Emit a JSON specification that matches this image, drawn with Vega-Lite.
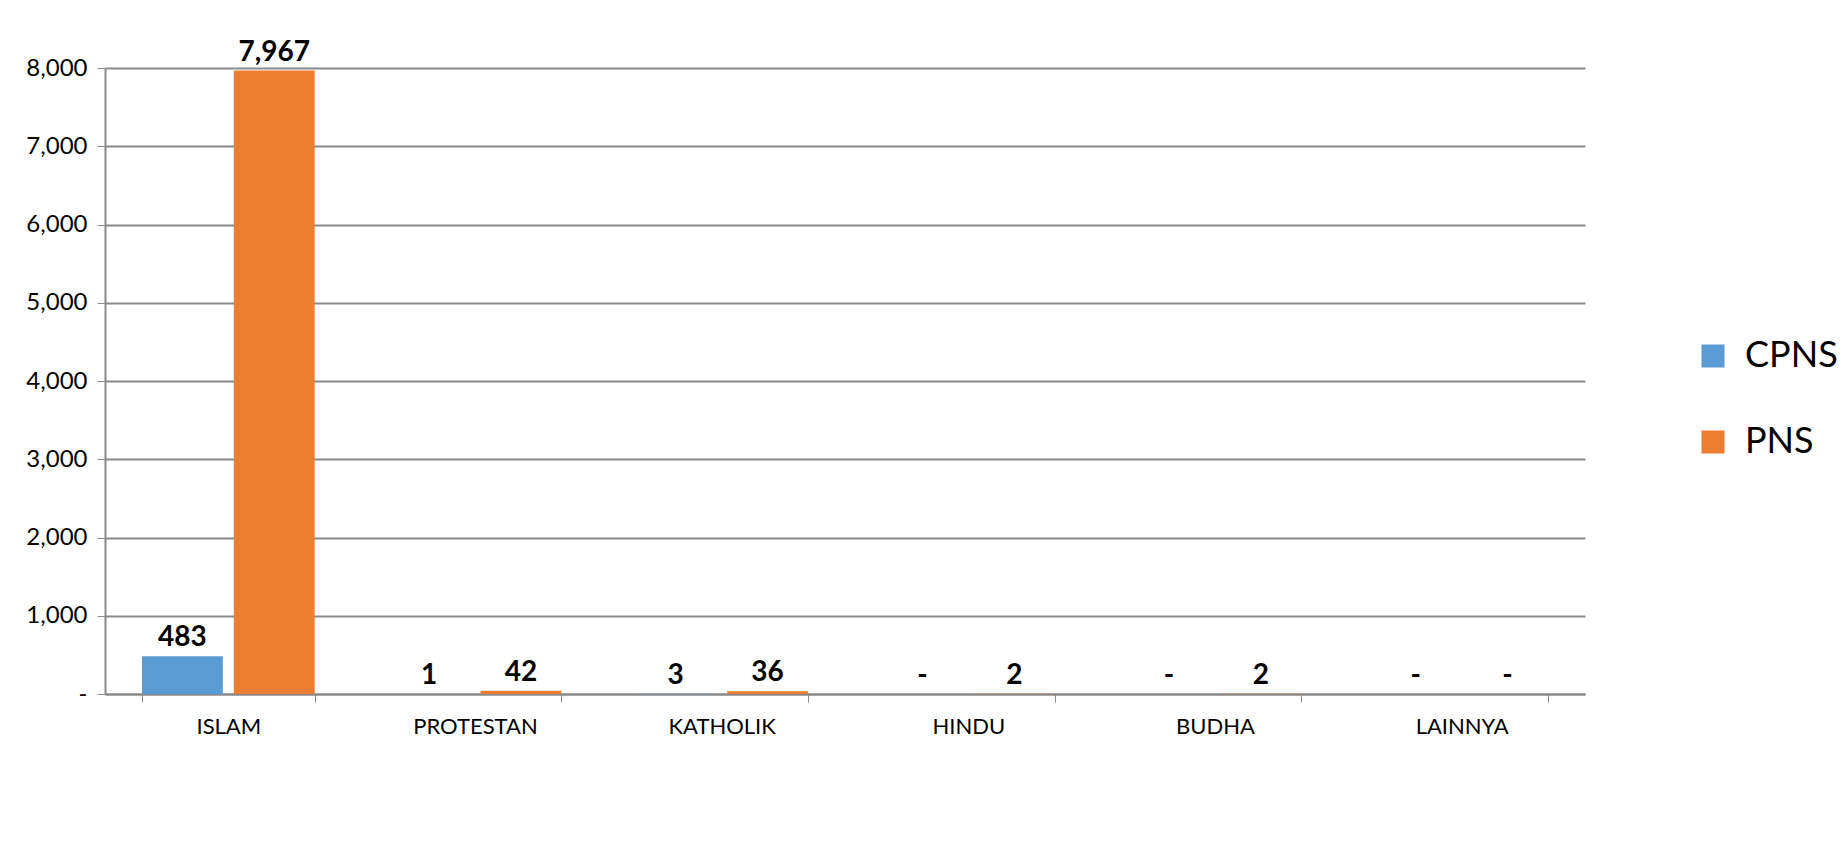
{
  "$schema": "https://vega.github.io/schema/vega-lite/v6.json",
  "autosize": {"type": "none"},
  "width": 1480,
  "height": 626,
  "padding": {"left": 105, "top": 68, "right": 260, "bottom": 160},
  "background": "white",
  "config": {
    "font": "Lato",
    "view": {"stroke": null}
  },
  "data": {
    "values": [
      {"agama": "ISLAM", "status": "CPNS", "jumlah": 483},
      {"agama": "ISLAM", "status": "PNS", "jumlah": 7967},
      {"agama": "PROTESTAN", "status": "CPNS", "jumlah": 1},
      {"agama": "PROTESTAN", "status": "PNS", "jumlah": 42},
      {"agama": "KATHOLIK", "status": "CPNS", "jumlah": 3},
      {"agama": "KATHOLIK", "status": "PNS", "jumlah": 36},
      {"agama": "HINDU", "status": "CPNS", "jumlah": 0},
      {"agama": "HINDU", "status": "PNS", "jumlah": 2},
      {"agama": "BUDHA", "status": "CPNS", "jumlah": 0},
      {"agama": "BUDHA", "status": "PNS", "jumlah": 2},
      {"agama": "LAINNYA", "status": "CPNS", "jumlah": 0},
      {"agama": "LAINNYA", "status": "PNS", "jumlah": 0}
    ]
  },
  "encoding": {
    "x": {
      "field": "agama",
      "type": "nominal",
      "sort": null,
      "scale": {"paddingInner": 0.3, "paddingOuter": 0.15},
      "axis": {
        "title": null,
        "labelAngle": 0,
        "labelFontSize": 22,
        "labelColor": "#000000",
        "labelPadding": 14,
        "domainColor": "#898989",
        "domainWidth": 2,
        "tickColor": "#898989",
        "tickBand": "extent",
        "tickSize": 8
      }
    },
    "xOffset": {"field": "status", "type": "nominal", "scale": {"paddingInner": 0.12}},
    "y": {
      "field": "jumlah",
      "type": "quantitative",
      "scale": {"domain": [0, 8000]},
      "axis": {
        "title": null,
        "values": [0, 1000, 2000, 3000, 4000, 5000, 6000, 7000, 8000],
        "labelExpr": "datum.value == 0 ? '-' : format(datum.value, ',')",
        "labelFontSize": 24,
        "labelColor": "#000000",
        "labelPadding": 10,
        "gridColor": "#898989",
        "gridWidth": 2,
        "domainColor": "#898989",
        "domainWidth": 2,
        "tickColor": "#898989",
        "tickSize": 8
      }
    },
    "color": {
      "field": "status",
      "type": "nominal",
      "scale": {"domain": ["CPNS", "PNS"], "range": ["#5B9BD5", "#ED7D31"]},
      "legend": {
        "title": null,
        "orient": "none",
        "legendX": 1590,
        "legendY": 270,
        "symbolType": "square",
        "symbolSize": 529,
        "symbolStrokeWidth": 0,
        "labelFontSize": 36,
        "labelColor": "#000000",
        "labelOffset": 14,
        "rowPadding": 50
      }
    }
  },
  "layer": [
    {"mark": {"type": "bar"}},
    {
      "mark": {"type": "text", "dy": -18, "fontSize": 28, "fontWeight": "bold", "color": "#000000"},
      "encoding": {
        "text": {"field": "label"},
        "color": {"value": "#000000"}
      },
      "transform": [
        {"calculate": "datum.jumlah == 0 ? '-' : format(datum.jumlah, ',')", "as": "label"}
      ]
    }
  ]
}
